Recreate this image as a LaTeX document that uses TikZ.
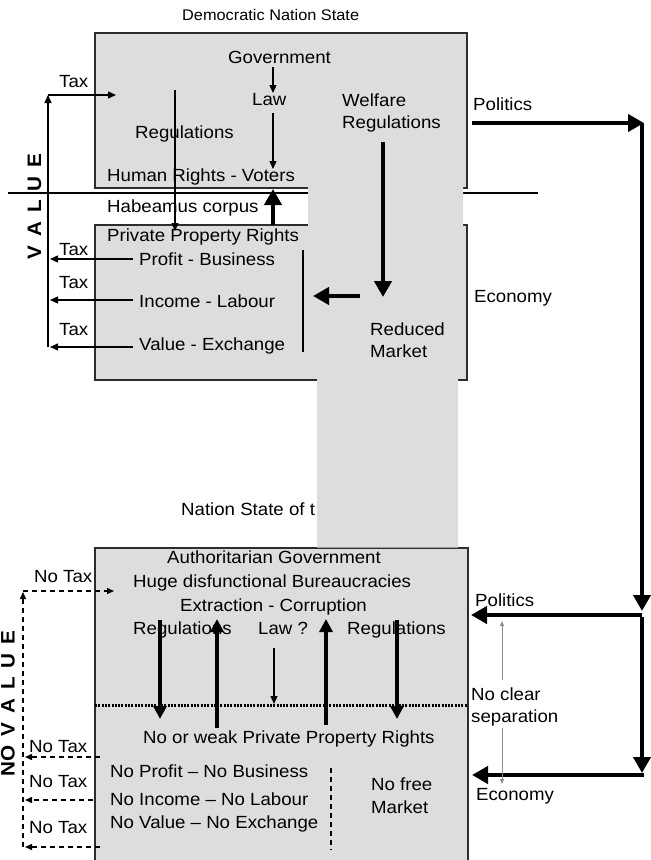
\documentclass[tikz,border=0pt]{standalone}
\usepackage{fontspec}
\setmainfont{Liberation Sans}[FakeStretch=1.06]
\usetikzlibrary{arrows.meta}

\definecolor{panel}{RGB}{221,221,221}
\definecolor{rim}{RGB}{45,45,45}
\definecolor{hint}{RGB}{140,140,140}

\newcommand{\axisgap}{\spaceskip=9pt\relax}

\tikzset{
  lbl/.style={anchor=base west, inner sep=0pt, font=\fontsize{17.6}{20}\selectfont},
  heading/.style={anchor=base west, inner sep=0pt, font=\fontsize{15.4}{18}\selectfont},
  axislbl/.style={inner sep=0pt, rotate=90, font=\fontsize{19.5}{20}\selectfont\bfseries},
  panelbox/.style={draw=rim, line width=1.5pt, fill=panel, inner sep=0pt},
  flow/.style={line width=1.3pt, -{Triangle[length=8pt,width=7pt]}},
  plainline/.style={line width=1.3pt},
  bigflow/.style={line width=4pt, -{Triangle[length=16pt,width=17pt]}},
  midflow/.style={line width=3.5pt, -{Triangle[length=13pt,width=13pt]}},
  notax/.style={line width=1.4pt, dash pattern=on 5pt off 4pt, -{Triangle[length=7pt,width=6pt]}},
  dashline/.style={line width=1.4pt, dash pattern=on 5pt off 4pt},
  hintflow/.style={draw=hint, line width=1pt, -{Triangle[length=5pt,width=4pt]}},
}

\begin{document}
\begin{tikzpicture}[x=1pt,y=-1pt]
\useasboundingbox (0,0) rectangle (651,860);

% ---------- panels ----------
\node[panelbox, minimum width=372pt, minimum height=155pt] (polbox) at (281,110.5) {};
\node[panelbox, minimum width=372pt, minimum height=155pt] (ecobox) at (281,302.5) {};
\node[panelbox, minimum width=373pt, minimum height=322pt] (authbox) at (281.5,709) {};

% separation between politics and economy
\coordinate (sepL) at (8,193);
\coordinate (sepR) at (538,193);
\draw[line width=2pt] (sepL) -- (sepR);

\node[lbl] (ttlB) at (181,515) {Nation State of t};

% grey column across the two panels
\fill[panel] (308,185) -- (463,185) -- (463,228) -- (458,228) -- (458,547.5)
  -- (317,547.5) -- (317,228) -- (308,228) -- cycle;

% ---------- democratic nation state ----------
\node[heading] (ttlA) at (182,20) {Democratic Nation State};
\node[lbl] (gov) at (228,63) {Government};
\node[lbl] (law) at (252,105) {Law};
\node[lbl] (regs) at (135,138) {Regulations};
\node[lbl] (hrv) at (107,181) {Human Rights - Voters};
\node[lbl] (hab) at (107,212) {Habeamus corpus};
\node[lbl] (taxA) at (59,87) {Tax};
\node[lbl] (welf) at (342,106) {Welfare};
\node[lbl] (wregs) at (342,128) {Regulations};
\node[lbl] (polA) at (473,110) {Politics};
\node[lbl] (ppr) at (107,241) {Private Property Rights};
\node[lbl] (pb) at (139,265) {Profit - Business};
\node[lbl] (il) at (139,307) {Income - Labour};
\node[lbl] (ve) at (139,350) {Value - Exchange};
\node[lbl] (taxB) at (59,255) {Tax};
\node[lbl] (taxC) at (59,288) {Tax};
\node[lbl] (taxD) at (59,335) {Tax};
\node[lbl] (ecoA) at (474,302) {Economy};
\node[lbl] (red) at (370,335) {Reduced};
\node[lbl] (mkt) at (370,357) {Market};
\node[axislbl] (val) at (34.5,206.5) {\axisgap V A L U E};

\coordinate (g1) at (273,67);   \coordinate (g2) at (273,93);
\coordinate (l1) at (273,113);  \coordinate (l2) at (273,169);
\coordinate (r1) at (175,90);   \coordinate (r2) at (175,231);
\coordinate (vb) at (48,347);   \coordinate (vt) at (48,95);
\coordinate (vin) at (116,95);
\coordinate (pbS) at (133,259); \coordinate (pbE) at (50,259);
\coordinate (ilS) at (133,300); \coordinate (ilE) at (50,300);
\coordinate (veS) at (133,347); \coordinate (veE) at (50,347);
\coordinate (h1) at (273,225);  \coordinate (h2) at (273,189);
\coordinate (w1) at (383,142);  \coordinate (w2) at (383,297);
\coordinate (m1) at (360,296);  \coordinate (m2) at (313,296);
\coordinate (bar1) at (303,250); \coordinate (bar2) at (303,352);

\draw[flow] (g1) -- (g2);
\draw[flow] (l1) -- (l2);
\draw[flow] (r1) -- (r2);
\draw[flow] (vb) -- (vt);
\draw[flow] (vt) -- (vin);
\draw[flow] (pbS) -- (pbE);
\draw[flow] (ilS) -- (ilE);
\draw[flow] (veS) -- (veE);
\draw[plainline] (bar1) -- (bar2);
\draw[bigflow] (h1) -- (h2);
\draw[bigflow] (w1) -- (w2);
\draw[bigflow] (m1) -- (m2);

% ---------- right hand feedback ----------
\coordinate (pA) at (472,123);  \coordinate (pC) at (644,123);
\coordinate (v1) at (642,123);  \coordinate (v2) at (642,611);
\coordinate (pB1) at (642,615); \coordinate (pB2) at (471,615);
\coordinate (v3) at (642,617);  \coordinate (v4) at (642,773);
\coordinate (eB1) at (644,775); \coordinate (eB2) at (472,775);
\draw[bigflow] (pA) -- (pC);
\draw[bigflow] (v1) -- (v2);
\draw[bigflow] (pB1) -- (pB2);
\draw[bigflow] (v3) -- (v4);
\draw[bigflow] (eB1) -- (eB2);

% ---------- nation state (bottom) ----------
\node[lbl] (auth) at (167,563) {Authoritarian Government};
\node[lbl] (bur) at (133,587) {Huge disfunctional Bureaucracies};
\node[lbl] (ext) at (180,611) {Extraction - Corruption};
\node[lbl] (regL) at (133,634) {Regulations};
\node[lbl] (lawq) at (258,634) {Law ?};
\node[lbl] (regR) at (347,634) {Regulations};
\node[lbl] (polB) at (475,606) {Politics};
\node[lbl] (nclr) at (471,700) {No clear};
\node[lbl] (nsep) at (471,722) {separation};
\node[lbl] (weak) at (143,743) {No or weak Private Property Rights};
\node[lbl] (npb) at (110,777) {No Profit – No Business};
\node[lbl] (nil) at (110,805) {No Income – No Labour};
\node[lbl] (nve) at (110,828) {No Value – No Exchange};
\node[lbl] (nfree) at (371,790) {No free};
\node[lbl] (nmkt) at (371,813) {Market};
\node[lbl] (ecoB) at (476,800) {Economy};
\node[lbl] (ntA) at (34,582) {No Tax};
\node[lbl] (ntB) at (29,752) {No Tax};
\node[lbl] (ntC) at (29,787) {No Tax};
\node[lbl] (ntD) at (29,833) {No Tax};
\node[axislbl] (nval) at (8,703.5) {\axisgap NO V A L U E};

\coordinate (dL) at (95,705);   \coordinate (dR) at (467,705);
\draw[line width=3pt, dash pattern=on 2pt off 1.3pt] (dL) -- (dR);

\coordinate (a1) at (160,620);  \coordinate (a2) at (160,719);
\coordinate (b1) at (217,728);  \coordinate (b2) at (217,619);
\coordinate (c1) at (326,725);  \coordinate (c2) at (326,619);
\coordinate (d1) at (397,620);  \coordinate (d2) at (397,719);
\coordinate (q1) at (274,648);  \coordinate (q2) at (274,704);
\draw[midflow] (a1) -- (a2);
\draw[midflow] (b1) -- (b2);
\draw[midflow] (c1) -- (c2);
\draw[midflow] (d1) -- (d2);
\draw[flow] (q1) -- (q2);

\coordinate (s1) at (502,680);  \coordinate (s2) at (502,621);
\coordinate (s3) at (502,728);  \coordinate (s4) at (502,784);
\draw[hintflow] (s1) -- (s2);
\draw[hintflow] (s3) -- (s4);

\coordinate (mk1) at (331,768); \coordinate (mk2) at (331,850);
\draw[dashline] (mk1) -- (mk2);

\coordinate (nb) at (23,847);   \coordinate (nt) at (23,592);
\coordinate (ncorner) at (23,591);
\coordinate (nin) at (114,591);
\coordinate (nB1) at (100,757); \coordinate (nB2) at (25,757);
\coordinate (nC1) at (93,800);  \coordinate (nC2) at (25,800);
\coordinate (nD1) at (100,847); \coordinate (nD2) at (25,847);
\draw[notax] (nb) -- (nt);
\draw[notax] (ncorner) -- (nin);
\draw[notax] (nB1) -- (nB2);
\draw[notax] (nC1) -- (nC2);
\draw[notax] (nD1) -- (nD2);
\end{tikzpicture}
\end{document}
